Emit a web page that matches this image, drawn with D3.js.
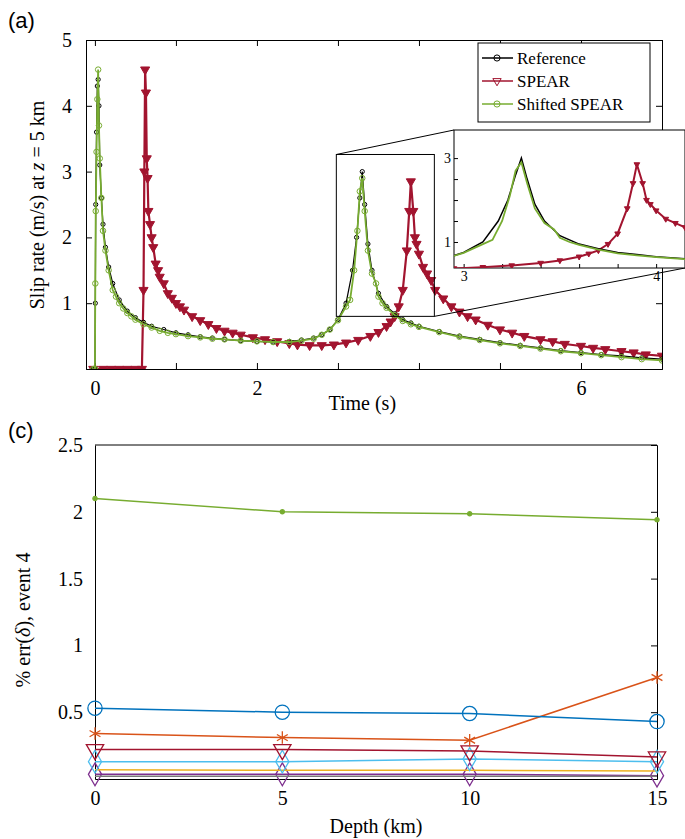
<!DOCTYPE html>
<html><head><meta charset="utf-8">
<script src="https://cdn.jsdelivr.net/npm/d3@7"></script>
<style>body{margin:0;background:#fff}svg text{font-family:"Liberation Serif",serif !important}svg text.pl{font-family:"Liberation Sans",sans-serif !important}</style>
</head><body><div id="chart"></div>
<script>
// panel (a) data
const refT = [-0.02,0,0.005,0.01,0.02,0.03,0.04,0.05,0.06,0.08,0.1,0.13,0.17,0.22,0.3,0.4,0.5,0.6,0.7,0.85,1.0,1.15,1.3,1.45,1.6,1.8,2.0,2.2,2.4,2.55,2.7,2.8,2.9,3.0,3.1,3.18,3.23,3.27,3.3,3.33,3.37,3.42,3.5,3.6,3.7,3.8,3.9,4.0,4.25,4.5,4.75,5.0,5.25,5.5,5.75,6.0,6.25,6.5,6.75,7.0];
const refV = [0,0,1.0,2.5,3.6,4.3,4.4,4.0,3.1,2.6,2.2,1.85,1.55,1.3,1.05,0.88,0.78,0.71,0.65,0.6,0.55,0.52,0.49,0.47,0.45,0.43,0.42,0.41,0.42,0.44,0.47,0.52,0.6,0.75,1.0,1.5,2.0,2.6,3.0,2.5,1.9,1.5,1.15,0.95,0.84,0.75,0.7,0.65,0.57,0.5,0.45,0.4,0.36,0.32,0.28,0.25,0.22,0.2,0.17,0.15];
const shT = [-0.02,0,0.005,0.01,0.02,0.03,0.04,0.05,0.06,0.08,0.1,0.13,0.17,0.22,0.26,0.3,0.35,0.4,0.45,0.5,0.6,0.7,0.8,0.9,1.0,1.15,1.3,1.45,1.6,1.8,2.0,2.2,2.4,2.55,2.7,2.8,2.9,3.0,3.1,3.15,3.2,3.24,3.27,3.3,3.33,3.37,3.42,3.47,3.5,3.55,3.6,3.7,3.8,3.9,4.0,4.25,4.5,4.75,5.0,5.25,5.5,5.75,6.0,6.25,6.5,6.75,7.0];
const shV = [0,0,1.3,2.4,3.3,4.1,4.55,3.7,3.2,2.6,2.1,1.8,1.5,1.2,1.1,1.0,0.92,0.85,0.8,0.75,0.68,0.63,0.58,0.55,0.53,0.5,0.48,0.46,0.45,0.43,0.42,0.41,0.41,0.43,0.46,0.52,0.6,0.74,0.95,1.05,1.5,2.1,2.7,2.9,2.4,1.8,1.45,1.3,1.1,1.0,0.93,0.82,0.73,0.68,0.64,0.56,0.49,0.44,0.39,0.35,0.31,0.27,0.24,0.21,0.18,0.15,0.13];
const spT = [-0.02,0.1,0.2,0.3,0.4,0.5,0.58,0.6,0.61,0.62,0.63,0.64,0.65,0.66,0.68,0.7,0.72,0.75,0.78,0.8,0.85,0.9,0.95,1.0,1.05,1.1,1.2,1.3,1.4,1.5,1.6,1.7,1.8,1.95,2.1,2.25,2.4,2.5,2.65,2.8,2.95,3.1,3.25,3.4,3.5,3.6,3.65,3.7,3.75,3.8,3.85,3.88,3.9,3.93,3.95,3.97,4.0,4.05,4.1,4.15,4.2,4.3,4.4,4.5,4.6,4.7,4.85,5.0,5.15,5.3,5.5,5.65,5.8,6.0,6.15,6.3,6.5,6.65,6.8,7.0];
const spV = [0,0,0,0,0,0,0,1.2,3.0,4.55,4.2,3.2,2.9,2.4,2.2,2.0,1.85,1.6,1.5,1.4,1.3,1.15,1.08,1.0,0.95,0.9,0.8,0.74,0.68,0.62,0.58,0.55,0.52,0.48,0.45,0.42,0.39,0.37,0.36,0.36,0.37,0.4,0.44,0.5,0.56,0.65,0.72,0.8,0.95,1.2,1.8,2.4,2.85,2.4,2.0,1.9,1.75,1.55,1.45,1.35,1.2,1.07,0.95,0.87,0.8,0.75,0.67,0.6,0.55,0.5,0.45,0.42,0.38,0.35,0.32,0.3,0.27,0.25,0.22,0.2];
const timeTicks = [0,1,2,3,4,5,6,7];
const timeLabels = [0,2,6];
const slipTicks = [1,2,3,4,5];

// panel (c) data
const depths = [0,5,10,15];
const errSeries = [
  {name:"green", color:"#77ac30", mark:"dot", values:[2.1,2.0,1.985,1.94]},
  {name:"blue", color:"#0072bd", mark:"circle", values:[0.53,0.50,0.49,0.43]},
  {name:"orange", color:"#d95319", mark:"star", values:[0.34,0.31,0.29,0.76]},
  {name:"red", color:"#a2142f", mark:"tri", values:[0.22,0.22,0.21,0.165]},
  {name:"cyan", color:"#4dbeee", mark:"diamond", values:[0.13,0.13,0.15,0.13]},
  {name:"yellow", color:"#edb120", mark:"none", values:[0.07,0.065,0.065,0.06]},
  {name:"gray", color:"#777777", mark:"none", values:[0.02,0.02,0.02,0.02]},
  {name:"purple", color:"#7e2f8e", mark:"diamond", values:[0.035,0.035,0.035,0.025]}
];
const depthTicks = [0,5,10,15];
const errTicks = [0.5,1,1.5,2,2.5];

const svg = d3.select("#chart").append("svg").attr("width",685).attr("height",839);

function symbolPath(mark, size) {
  const m = {circle:d3.symbolCircle, tri:d3.symbolTriangle, diamond:d3.symbolDiamond, star:d3.symbolAsterisk, dot:d3.symbolCircle};
  return d3.symbol().type(m[mark]).size(size)();
}

// ---------- panel (a) ----------
const x = d3.scaleLinear().domain([-0.11,7.0]).range([86,662]);
const y = d3.scaleLinear().domain([0,5]).range([369,40]);
const gA = svg.append("g");
gA.append("defs").append("clipPath").attr("id","clipA").append("rect")
  .attr("x",86).attr("y",40).attr("width",576).attr("height",329);

gA.append("g").attr("transform","translate(0,369)")
  .call(d3.axisBottom(x).tickValues(timeTicks).tickSize(-6).tickFormat(d => timeLabels.includes(d) ? d : ""))
  .selectAll(".tick text").attr("y",12);
gA.append("g").attr("transform","translate(0,40)")
  .call(d3.axisTop(x).tickValues(timeTicks).tickSize(-6).tickFormat(""));
gA.append("g").attr("transform","translate(86,0)")
  .call(d3.axisLeft(y).tickValues(slipTicks).tickSize(-6).tickFormat(d3.format("d")))
  .selectAll(".tick text").attr("x",-14);
gA.append("g").attr("transform","translate(662,0)")
  .call(d3.axisRight(y).tickValues(slipTicks).tickSize(-6).tickFormat(""));
gA.selectAll(".domain").attr("stroke","#000");
gA.selectAll(".tick text").attr("font-size",20);

const plotA = gA.append("g").attr("clip-path","url(#clipA)");
function drawSeries(g, xs, ys, T, V, color, mark, size, width, fill) {
  const pts = T.map((t,i)=>[t,V[i]]);
  const ln = d3.line().x(d => xs(d[0])).y(d => ys(d[1]));
  g.append("path").datum(pts).attr("d",ln).attr("fill","none").attr("stroke",color).attr("stroke-width",width);
  if (mark) g.selectAll(null).data(pts).join("path")
    .attr("transform",d=>`translate(${xs(d[0])},${ys(d[1])})${mark==="tri"?" rotate(180)":""}`)
    .attr("d",symbolPath(mark,size)).attr("fill",fill||"none").attr("stroke",color).attr("stroke-width",1);
}
drawSeries(plotA,x,y,spT,spV,"#a2142f","tri",36,2.2,"#a2142f");
drawSeries(plotA,x,y,refT,refV,"#000","circle",14,1.2);
drawSeries(plotA,x,y,shT,shV,"#77ac30","circle",24,1.8);

// zoom box + connectors
const bx0=x(2.98), bx1=x(4.19), by0=y(3.26), by1=y(0.8);
gA.append("rect").attr("x",bx0).attr("y",by0).attr("width",bx1-bx0).attr("height",by1-by0)
  .attr("fill","none").attr("stroke","#000");
// inset
const ix = d3.scaleLinear().domain([2.95,4.15]).range([454,685]);
const iy = d3.scaleLinear().domain([0.38,3.67]).range([268,130]);
gA.append("line").attr("x1",bx0).attr("y1",by0).attr("x2",454).attr("y2",130).attr("stroke","#000");
gA.append("line").attr("x1",bx1).attr("y1",by1).attr("x2",685).attr("y2",268).attr("stroke","#000");
const gI = gA.append("g");
gI.append("rect").attr("x",454).attr("y",130).attr("width",231).attr("height",138).attr("fill","#fff").attr("stroke","#000");
gI.append("defs").append("clipPath").attr("id","clipI").append("rect").attr("x",454).attr("y",130).attr("width",231).attr("height",138);
gI.append("g").attr("transform","translate(0,268)")
  .call(d3.axisBottom(ix).tickValues([3,3.2,3.4,3.6,3.8,4]).tickSize(-4).tickFormat(d=>(d===3||d===4)?d:""));
gI.append("g").attr("transform","translate(454,0)")
  .call(d3.axisLeft(iy).tickValues([1,1.5,2,2.5,3]).tickSize(-4).tickFormat(d=>(d===1||d===3)?d:""));
gI.selectAll(".domain").remove();
gI.selectAll(".tick text").attr("font-size",14);
const plotI = gI.append("g").attr("clip-path","url(#clipI)");
drawSeries(plotI,ix,iy,spT,spV,"#a2142f","tri",14,2,"#a2142f");
drawSeries(plotI,ix,iy,refT,refV,"#000",null,0,1.5);
drawSeries(plotI,ix,iy,shT,shV,"#77ac30",null,0,1.8);

// legend
const leg = gA.append("g");
leg.append("rect").attr("x",478).attr("y",43).attr("width",172).attr("height",79).attr("fill","#fff").attr("stroke","#000");
[["Reference","#000","circle"],["SPEAR","#a2142f","tri"],["Shifted SPEAR","#77ac30","circle"]].forEach((e,i)=>{
  const yy = 58 + i*23;
  leg.append("line").attr("x1",482).attr("x2",513).attr("y1",yy).attr("y2",yy).attr("stroke",e[1]).attr("stroke-width",1.5);
  leg.append("path").attr("transform",`translate(497,${yy})${e[2]==="tri"?" rotate(180)":""}`)
    .attr("d",symbolPath(e[2],30)).attr("fill","none").attr("stroke",e[1]);
  leg.append("text").attr("x",517).attr("y",yy+6).attr("font-size",17).text(e[0]);
});
gA.append("text").attr("x",x(3.3)).attr("y",410).attr("text-anchor","middle").attr("font-size",20).text("Time (s)");
const yl = gA.append("text").attr("transform","translate(44,205) rotate(-90)").attr("text-anchor","middle").attr("font-size",20);
yl.append("tspan").text("Slip rate (m/s) at ");
yl.append("tspan").attr("font-style","italic").text("z");
yl.append("tspan").text(" = 5 km");
svg.append("text").attr("class","pl").attr("x",8).attr("y",28).attr("font-size",22).text("(a)");

// ---------- panel (c) ----------
const xc = d3.scaleLinear().domain([0,15]).range([95,657]);
const yc = d3.scaleLinear().domain([0,2.5]).range([779,445]);
const gC = svg.append("g");
gC.append("g").attr("transform","translate(0,779)")
  .call(d3.axisBottom(xc).tickValues(depthTicks).tickSize(0))
  .selectAll(".tick text").attr("y",12);
gC.append("g").attr("transform","translate(95,0)")
  .call(d3.axisLeft(yc).tickValues(errTicks).tickSize(0).tickFormat(d=>d))
  .selectAll(".tick text").attr("x",-12);
gC.append("g").attr("transform","translate(657,0)")
  .call(d3.axisRight(yc).tickValues(errTicks).tickSize(-6).tickFormat(""));
gC.selectAll(".domain").attr("stroke","#000");
gC.selectAll(".tick text").attr("font-size",20);
gC.append("line").attr("x1",95).attr("x2",657).attr("y1",445).attr("y2",445).attr("stroke","#000");

const lineC = d3.line().x((d,i)=>xc(depths[i])).y(d=>yc(d));
errSeries.slice().reverse().forEach(s=>{
  gC.append("path").datum(s.values).attr("d",lineC).attr("fill","none").attr("stroke",s.color).attr("stroke-width",1.5);
  if (s.mark==="none") return;
  const size = {dot:14,circle:160,star:110,tri:130,diamond:150}[s.mark];
  gC.selectAll(null).data(s.values).join("path")
    .attr("transform",(d,i)=>`translate(${xc(depths[i])},${yc(d)})${s.mark==="tri"?" rotate(180)":""}`)
    .attr("d",symbolPath(s.mark,size))
    .attr("fill",s.mark==="dot"?s.color:"none").attr("stroke",s.color).attr("stroke-width",1.3);
});
gC.append("text").attr("x",xc(7.5)).attr("y",833).attr("text-anchor","middle").attr("font-size",20).text("Depth (km)");
const yl2 = gC.append("text").attr("transform","translate(30,620) rotate(-90)").attr("text-anchor","middle").attr("font-size",20);
yl2.append("tspan").text("% err(");
yl2.append("tspan").attr("font-style","italic").text("δ");
yl2.append("tspan").text("), event 4");
svg.append("text").attr("class","pl").attr("x",8).attr("y",438).attr("font-size",22).text("(c)");
</script></body></html>
